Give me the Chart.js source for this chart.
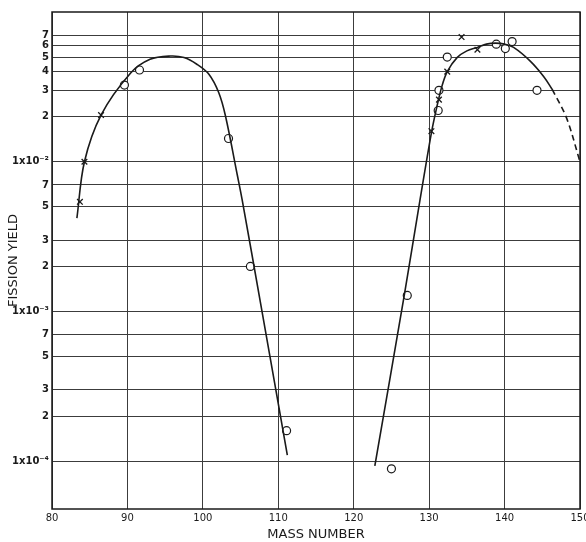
<!DOCTYPE html>
<html lang="en">
    <head>
        <meta charset="UTF-8">
        <title>Fission yield vs mass number</title>
        <style>
            html, body {
                margin: 0;
                padding: 0;
                background: #fff;
            }
            #chart-container {
                width: 586px;
                height: 542px;
            }
        </style>
    </head>
    <body>
        <div id="chart-container">
            <canvas id="yieldChart" width="586" height="542"></canvas>
        </div>

        <script src="https://cdn.jsdelivr.net/npm/chart.js"></script>
        <script>
            // values
            const xTicks = [80, 90, 100, 110, 120, 130, 140, 150];
            const yGrid = [1e-4, 2e-4, 3e-4, 5e-4, 7e-4, 1e-3, 2e-3, 3e-3, 5e-3, 7e-3,
                           1e-2, 2e-2, 3e-2, 4e-2, 5e-2, 6e-2, 7e-2];
            const yLabels = ['1x10⁻⁴', '2', '3', '5', '7', '1x10⁻³', '2', '3', '5', '7',
                             '1x10⁻²', '2', '3', '4', '5', '6', '7'];

            const crossX = [83.7, 84.3, 86.5, 130.3, 131.3, 132.4, 134.3, 136.4];
            const crossY = [5.4e-3, 1.0e-2, 2.05e-2, 1.6e-2, 2.6e-2, 4.0e-2, 6.8e-2, 5.6e-2];

            const circleX = [89.6, 91.6, 103.4, 106.3, 111.1, 125.0, 127.1, 131.2, 131.3, 132.4, 138.9, 140.1, 141.0, 144.3];
            const circleY = [3.25e-2, 4.1e-2, 1.43e-2, 2.0e-3, 1.6e-4, 8.9e-5, 1.28e-3, 2.2e-2, 3.0e-2, 5.0e-2, 6.1e-2, 5.7e-2, 6.35e-2, 3.0e-2];

            const leftCurveX = [83.3, 84.3, 86.5, 90.4, 93.0, 95.7, 97.5, 99.2, 100.8, 102.1, 103.0, 104.6, 105.2, 107.8, 111.2];
            const leftCurveY = [4.2e-3, 1.0e-2, 2.05e-2, 3.9e-2, 4.83e-2, 5.08e-2, 4.96e-2, 4.48e-2, 3.84e-2, 2.9e-2, 2.02e-2, 8.0e-3, 5.6e-3, 1.03e-3, 1.1e-4];

            const rightCurveX = [122.8, 126.7, 128.8, 130.3, 131.0, 131.7, 132.4, 133.7, 135.0, 136.4, 137.6, 138.8, 140.0, 141.2, 143.4, 145.2, 146.3];
            const rightCurveY = [9.3e-5, 1.28e-3, 5.6e-3, 1.56e-2, 2.3e-2, 3.2e-2, 4.0e-2, 4.96e-2, 5.5e-2, 5.8e-2, 6.1e-2, 6.2e-2, 6.1e-2, 5.8e-2, 4.7e-2, 3.7e-2, 3.05e-2];

            const dashX = [146.3, 148.2, 150];
            const dashY = [3.05e-2, 1.97e-2, 1.0e-2];

            const pts = (xs, ys) => xs.map((x, i) => ({ x: x, y: ys[i] }));
            const ink = '#1a1a1a';

            const curveStyle = {
                showLine: true,
                pointRadius: 0,
                borderColor: ink,
                borderWidth: 1.6,
                tension: 0.35,
                fill: false
            };

            // frame around the plot area
            const frame = {
                id: 'frame',
                afterDraw(chart) {
                    const a = chart.chartArea;
                    const c = chart.ctx;
                    c.save();
                    c.strokeStyle = ink;
                    c.lineWidth = 1.5;
                    c.strokeRect(a.left, a.top, a.right - a.left, a.bottom - a.top);
                    c.restore();
                }
            };

            new Chart(document.getElementById('yieldChart'), {
                type: 'scatter',
                data: {
                    datasets: [
                        Object.assign({ data: pts(leftCurveX, leftCurveY) }, curveStyle),
                        Object.assign({ data: pts(rightCurveX, rightCurveY) }, curveStyle),
                        Object.assign({ data: pts(dashX, dashY), borderDash: [6, 4] }, curveStyle),
                        {
                            data: pts(crossX, crossY),
                            pointStyle: 'crossRot',
                            pointRadius: 4,
                            borderColor: ink,
                            borderWidth: 1.3
                        },
                        {
                            data: pts(circleX, circleY),
                            pointStyle: 'circle',
                            pointRadius: 4,
                            backgroundColor: '#fff',
                            borderColor: ink,
                            borderWidth: 1.2
                        },
                        {
                            data: pts(circleX, circleY),
                            pointStyle: 'circle',
                            pointRadius: 0.9,
                            backgroundColor: ink,
                            borderWidth: 0
                        }
                    ]
                },
                options: {
                    responsive: false,
                    animation: false,
                    layout: { padding: { top: 12, right: 6, left: 0, bottom: 0 } },
                    plugins: {
                        legend: { display: false },
                        tooltip: { enabled: false }
                    },
                    scales: {
                        x: {
                            type: 'linear',
                            min: 80,
                            max: 150,
                            afterFit(scale) {
                                scale.height = 33;
                                scale.paddingLeft = 0;
                                scale.paddingRight = 0;
                            },
                            afterBuildTicks(scale) {
                                scale.ticks = xTicks.map(v => ({ value: v }));
                            },
                            grid: { color: '#3c3c3c', lineWidth: 1, drawTicks: false },
                            border: { display: false },
                            ticks: {
                                color: ink,
                                padding: 3,
                                maxRotation: 0,
                                font: { family: 'DejaVu Sans', size: 10 },
                                callback: v => String(v)
                            },
                            title: {
                                display: true,
                                text: 'MASS NUMBER',
                                color: ink,
                                padding: { top: 0, bottom: 0 },
                                font: { family: 'DejaVu Sans', size: 13 }
                            }
                        },
                        y: {
                            type: 'logarithmic',
                            min: 4.8e-5,
                            max: 0.1,
                            afterFit(scale) { scale.width = 52; },
                            afterBuildTicks(scale) {
                                scale.ticks = yGrid.map(v => ({ value: v }));
                            },
                            grid: { color: '#3c3c3c', lineWidth: 1, drawTicks: false },
                            border: { display: false },
                            ticks: {
                                color: ink,
                                padding: 3,
                                autoSkip: false,
                                font: { family: 'DejaVu Sans', size: 10, weight: 'bold' },
                                callback: v => yLabels[yGrid.indexOf(v)] ?? ''
                            },
                            title: {
                                display: true,
                                text: 'FISSION YIELD',
                                color: ink,
                                padding: { top: 6, bottom: 0 },
                                font: { family: 'DejaVu Sans', size: 13 }
                            }
                        }
                    }
                },
                plugins: [frame]
            });
        </script>
    </body>
</html>
